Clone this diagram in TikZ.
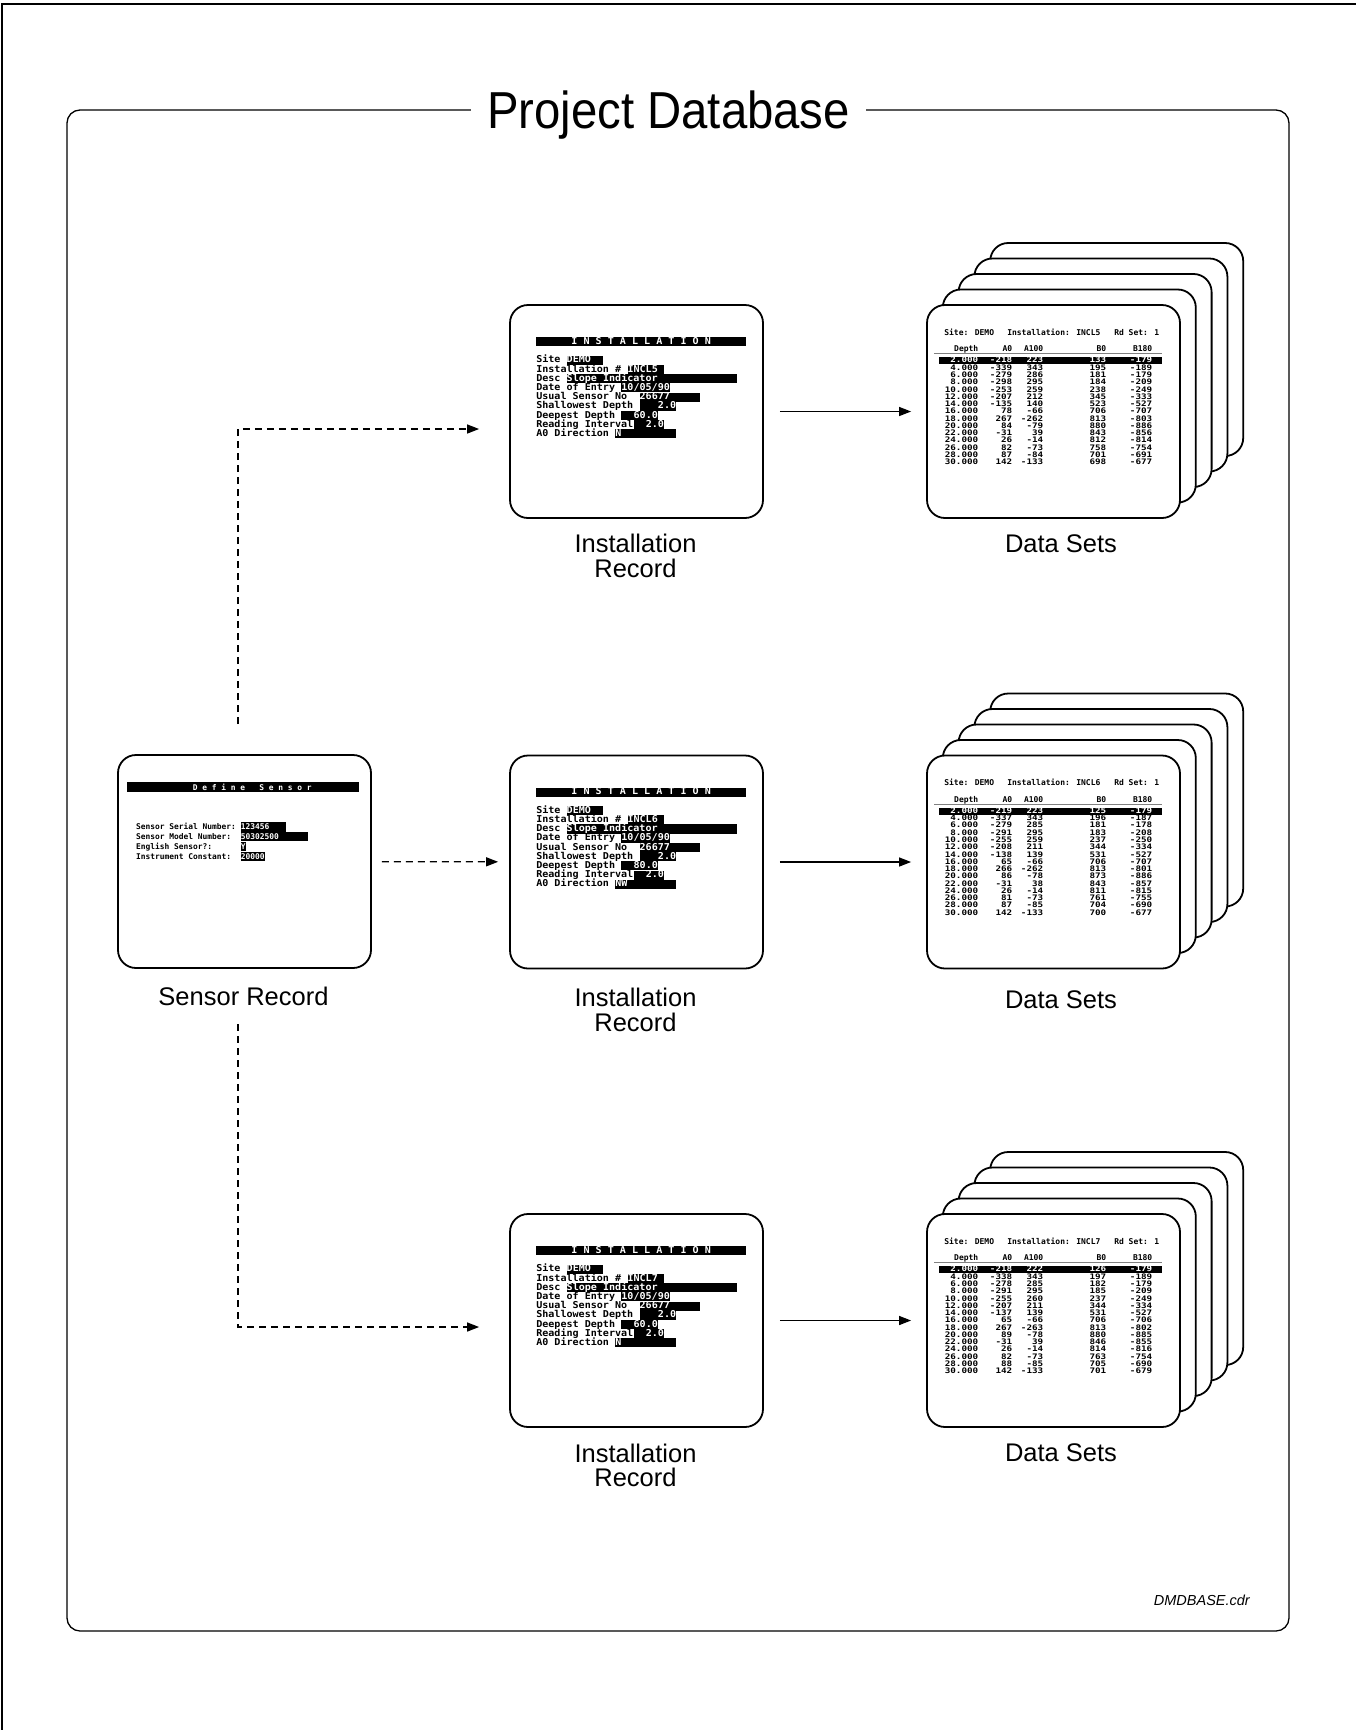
\documentclass[tikz,border=0pt]{standalone}
\usepackage{fontspec}
\setmainfont{Liberation Sans}
\newfontfamily\ttlfont[FakeStretch=0.91]{Liberation Sans}
\newfontfamily\scrfont{DejaVu Sans Mono}
\newfontfamily\insfont[FakeStretch=1.06]{DejaVu Sans Mono Bold}
\newfontfamily\datfont[FakeStretch=1.22]{DejaVu Sans Mono Bold}
\usetikzlibrary{arrows.meta,calc}

\setlength{\fboxsep}{0pt}
\newlength\chw \setlength\chw{6.08pt}
\newlength\chs \setlength\chs{4.77pt}
\newcommand\tight{\lineskiplimit=-50pt\lineskip=0pt}
\newcommand\scrstrut{\vrule height .78\baselineskip depth .2\baselineskip width 0pt}
\newcommand\lbl[2]{\makebox[#1][l]{#2}}
\newcommand\fld[3][l]{\colorbox{black}{\scrstrut\makebox[#2][#1]{\color{white}#3}}}
\newcommand\drow[5]{\makebox[39pt][r]{#1}\makebox[34pt][r]{#2}\makebox[31pt][r]{#3}\makebox[63pt][r]{#4}\makebox[46pt][r]{#5}}
\newcommand\dsel[5]{\colorbox{black}{\scrstrut\color{white}\drow{#1}{#2}{#3}{#4}{#5}\hspace*{10pt}}}
\newcommand\dln[5]{\scrstrut\drow{#1}{#2}{#3}{#4}{#5}}

\tikzset{
	screen/.style={shape=rectangle, rounded corners=18pt, draw, line width=1.8pt, fill=white,
		minimum width=253pt, minimum height=213pt, inner sep=0pt},
	scrtext/.style={anchor=north west, inner sep=0pt, align=left,
		font=\insfont\fontsize{9.5}{9.2}\selectfont\tight},
	sentext/.style={anchor=north west, inner sep=0pt, align=left,
		font=\scrfont\bfseries\fontsize{7.9}{9.9}\selectfont\tight},
	dattext/.style={anchor=north west, inner sep=0pt, align=left,
		font=\datfont\fontsize{7.6}{7.26}\selectfont\tight},
	dathead/.style={anchor=base west, inner sep=0pt,
		font=\scrfont\bfseries\fontsize{8}{9}\selectfont},
	caption/.style={align=center, inner sep=0pt, font=\fontsize{25.5}{24.5}\selectfont},
	flow/.style={line width=1.3pt, shorten <=16pt, shorten >=15pt},
	dashflow/.style={line width=1.3pt, dash pattern=on 7pt off 5pt},
}

\begin{document}
\begin{tikzpicture}[x=1pt, y=-1pt, >={Triangle[length=12pt,width=9pt]}]
	\useasboundingbox (0,0) rectangle (1356,1730);
	
	% page and database frame
	\draw[line width=1.2pt] (2,1730) -- (2,4) -- (1356,4);
	\draw[line width=1.3pt, rounded corners=13pt] (67,110) rectangle (1289,1631);
	
	\node (title)[fill=white, inner xsep=16pt, inner ysep=4pt, anchor=base,
		font=\ttlfont\fontsize{52}{52}\selectfont] 
	at (668.5,128){
		Project Database
	};
	
	% sensor record
	\node (sen)[screen] at (244.5,861.5) {};
	\node (senbar)[sentext, font=\scrfont\bfseries\fontsize{7.9}{10}\selectfont] 
	at ($(sen.north west)+(10,28)$){
		\fld[c]{232pt}{\hspace*{18pt}D e f i n e\ \ \ S e n s o r}
	};
	\node (sentxt)[sentext] 
	at ($(sen.north west)+(18.7,67.5)$){
		\lbl{22\chs}{Sensor Serial Number:}\fld{9.5\chs}{123456} \\
		\lbl{22\chs}{Sensor Model Number:}\fld{14\chs}{50302500} \\
		\lbl{22\chs}{English Sensor?:}\fld{1\chs}{Y} \\
		\lbl{22\chs}{Instrument Constant:}\fld{5\chs}{20000}
	};
	\node (senlbl)[caption, anchor=base] at (243.5,1005) {Sensor Record};
	
	% installation records
	\node (ins1)[screen] at (636.5,411.5) {};
	\node (ins1txt)[scrtext] 
	at ($(ins1.north west)+(27,33)$){
		\fld[c]{34.5\chw}{I N S T A L L A T I O N} \\[9.2pt]
		\lbl{5\chw}{Site}\fld{6\chw}{DEMO} \\
		\lbl{15\chw}{Installation \#}\fld{6\chw}{INCL5} \\
		\lbl{5\chw}{Desc}\fld{28\chw}{Slope Indicator} \\
		\lbl{14\chw}{Date of Entry}\fld{8\chw}{10/05/90} \\
		\lbl{17\chw}{Usual Sensor No}\fld{10\chw}{26677} \\
		\lbl{17\chw}{Shallowest Depth}\fld[r]{6\chw}{2.0} \\
		\lbl{14\chw}{Deepest Depth}\fld[r]{6\chw}{60.0} \\
		\lbl{16\chw}{Reading Interval}\fld[r]{5\chw}{2.0} \\
		\lbl{13\chw}{A0 Direction}\fld{10\chw}{N}
	};
	\node (ins1lbl)[caption, anchor=north] at (635.5,534) {Installation\\Record};
	
	\node (ins2)[screen] at (636.5,862) {};
	\node (ins2txt)[scrtext] 
	at ($(ins2.north west)+(27,33)$){
		\fld[c]{34.5\chw}{I N S T A L L A T I O N} \\[9.2pt]
		\lbl{5\chw}{Site}\fld{6\chw}{DEMO} \\
		\lbl{15\chw}{Installation \#}\fld{6\chw}{INCL6} \\
		\lbl{5\chw}{Desc}\fld{28\chw}{Slope Indicator} \\
		\lbl{14\chw}{Date of Entry}\fld{8\chw}{10/05/90} \\
		\lbl{17\chw}{Usual Sensor No}\fld{10\chw}{26677} \\
		\lbl{17\chw}{Shallowest Depth}\fld[r]{6\chw}{2.0} \\
		\lbl{14\chw}{Deepest Depth}\fld[r]{6\chw}{80.0} \\
		\lbl{16\chw}{Reading Interval}\fld[r]{5\chw}{2.0} \\
		\lbl{13\chw}{A0 Direction}\fld{10\chw}{NW}
	};
	\node (ins2lbl)[caption, anchor=north] at (635.5,988) {Installation\\Record};
	
	\node (ins3)[screen] at (636.5,1320.5) {};
	\node (ins3txt)[scrtext] 
	at ($(ins3.north west)+(27,33)$){
		\fld[c]{34.5\chw}{I N S T A L L A T I O N} \\[9.2pt]
		\lbl{5\chw}{Site}\fld{6\chw}{DEMO} \\
		\lbl{15\chw}{Installation \#}\fld{6\chw}{INCL7} \\
		\lbl{5\chw}{Desc}\fld{28\chw}{Slope Indicator} \\
		\lbl{14\chw}{Date of Entry}\fld{8\chw}{10/05/90} \\
		\lbl{17\chw}{Usual Sensor No}\fld{10\chw}{26677} \\
		\lbl{17\chw}{Shallowest Depth}\fld[r]{6\chw}{2.0} \\
		\lbl{14\chw}{Deepest Depth}\fld[r]{6\chw}{60.0} \\
		\lbl{16\chw}{Reading Interval}\fld[r]{5\chw}{2.0} \\
		\lbl{13\chw}{A0 Direction}\fld{10\chw}{N}
	};
	\node (ins3lbl)[caption, anchor=north] at (635.5,1443.5) {Installation\\Record};
	
	% data sets, row 1
	\node (d1c4)[screen] at (1116.7,349.5) {};
	\node (d1c3)[screen] at (1100.9,365) {};
	\node (d1c2)[screen] at (1085.1,380.5) {};
	\node (d1c1)[screen] at (1069.3,396) {};
	\node (dat1)[screen] at (1053.5,411.5) {};
	\node (dat1hdr)[dathead] at ($(dat1.north west)+(18,31)$)
		{\makebox[63pt][l]{Site: DEMO}\makebox[107pt][l]{Installation: INCL5}Rd Set: 1};
	\node (dat1col)[dathead] at ($(dat1.north west)+(13,47.5)$) {\drow{Depth}{A0}{A100}{B0}{B180}};
	\draw[gray, line width=1.2pt] ($(dat1.north west)+(8,49.5)$) -- ++(228,0);
	\node (dat1tab)[dattext] 
	at ($(dat1.north west)+(13,53)$){
		\dsel{2.000}{-218}{223}{133}{-179} \\
		\dln{4.000}{-339}{343}{195}{-189} \\
		\dln{6.000}{-279}{286}{181}{-179} \\
		\dln{8.000}{-298}{295}{184}{-209} \\
		\dln{10.000}{-253}{259}{238}{-249} \\
		\dln{12.000}{-207}{212}{345}{-333} \\
		\dln{14.000}{-135}{140}{523}{-527} \\
		\dln{16.000}{78}{-66}{706}{-707} \\
		\dln{18.000}{267}{-262}{813}{-803} \\
		\dln{20.000}{84}{-79}{880}{-886} \\
		\dln{22.000}{-31}{39}{843}{-856} \\
		\dln{24.000}{26}{-14}{812}{-814} \\
		\dln{26.000}{82}{-73}{758}{-754} \\
		\dln{28.000}{87}{-84}{701}{-691} \\
		\dln{30.000}{142}{-133}{698}{-677}
	};
	\node (dat1lbl)[caption, anchor=base] at (1061,552) {Data Sets};
	
	% data sets, row 2
	\node (d2c4)[screen] at (1116.7,800) {};
	\node (d2c3)[screen] at (1100.9,815.5) {};
	\node (d2c2)[screen] at (1085.1,831) {};
	\node (d2c1)[screen] at (1069.3,846.5) {};
	\node (dat2)[screen] at (1053.5,862) {};
	\node (dat2hdr)[dathead] at ($(dat2.north west)+(18,31)$)
		{\makebox[63pt][l]{Site: DEMO}\makebox[107pt][l]{Installation: INCL6}Rd Set: 1};
	\node (dat2col)[dathead] at ($(dat2.north west)+(13,47.5)$) {\drow{Depth}{A0}{A100}{B0}{B180}};
	\draw[gray, line width=1.2pt] ($(dat2.north west)+(8,49.5)$) -- ++(228,0);
	\node (dat2tab)[dattext] 
	at ($(dat2.north west)+(13,53)$){
		\dsel{2.000}{-219}{223}{125}{-179} \\
		\dln{4.000}{-337}{343}{196}{-187} \\
		\dln{6.000}{-279}{285}{181}{-178} \\
		\dln{8.000}{-291}{295}{183}{-208} \\
		\dln{10.000}{-255}{259}{237}{-250} \\
		\dln{12.000}{-208}{211}{344}{-334} \\
		\dln{14.000}{-138}{139}{531}{-527} \\
		\dln{16.000}{65}{-66}{706}{-707} \\
		\dln{18.000}{266}{-262}{813}{-801} \\
		\dln{20.000}{86}{-78}{873}{-886} \\
		\dln{22.000}{-31}{38}{843}{-857} \\
		\dln{24.000}{26}{-14}{811}{-815} \\
		\dln{26.000}{81}{-73}{761}{-755} \\
		\dln{28.000}{87}{-85}{704}{-690} \\
		\dln{30.000}{142}{-133}{700}{-677}
	};
	\node (dat2lbl)[caption, anchor=base] at (1061,1008) {Data Sets};
	
	% data sets, row 3
	\node (d3c4)[screen] at (1116.7,1258.5) {};
	\node (d3c3)[screen] at (1100.9,1274) {};
	\node (d3c2)[screen] at (1085.1,1289.5) {};
	\node (d3c1)[screen] at (1069.3,1305) {};
	\node (dat3)[screen] at (1053.5,1320.5) {};
	\node (dat3hdr)[dathead] at ($(dat3.north west)+(18,31)$)
		{\makebox[63pt][l]{Site: DEMO}\makebox[107pt][l]{Installation: INCL7}Rd Set: 1};
	\node (dat3col)[dathead] at ($(dat3.north west)+(13,47.5)$) {\drow{Depth}{A0}{A100}{B0}{B180}};
	\draw[gray, line width=1.2pt] ($(dat3.north west)+(8,49.5)$) -- ++(228,0);
	\node (dat3tab)[dattext] 
	at ($(dat3.north west)+(13,53)$){
		\dsel{2.000}{-218}{222}{126}{-179} \\
		\dln{4.000}{-338}{343}{197}{-189} \\
		\dln{6.000}{-278}{285}{182}{-179} \\
		\dln{8.000}{-291}{295}{185}{-209} \\
		\dln{10.000}{-255}{260}{237}{-249} \\
		\dln{12.000}{-207}{211}{344}{-334} \\
		\dln{14.000}{-137}{139}{531}{-527} \\
		\dln{16.000}{65}{-66}{706}{-706} \\
		\dln{18.000}{267}{-263}{813}{-802} \\
		\dln{20.000}{89}{-78}{880}{-885} \\
		\dln{22.000}{-31}{39}{846}{-855} \\
		\dln{24.000}{26}{-14}{814}{-816} \\
		\dln{26.000}{82}{-73}{763}{-754} \\
		\dln{28.000}{88}{-85}{705}{-690} \\
		\dln{30.000}{142}{-133}{701}{-679}
	};
	\node (dat3lbl)[caption, anchor=base] at (1061,1461) {Data Sets};
	
	\node (fname)[anchor=base east, inner sep=0pt, font=\itshape\fontsize{14.5}{16}\selectfont] 
	at (1250,1605) {DMDBASE.cdr};
	
	% connectors
	\coordinate (s-up) at ([xshift=-6.5pt, yshift=30pt]sen.north);
	\coordinate (s-dn) at (238,1024);
	
	\draw[->, dashflow, shorten >=30pt] (s-up) |- ($(ins1.west)+(0,17.5)$);
	\draw[->, dashflow, shorten <=10pt, shorten >=11pt] (sen) -- (ins2);
	\draw[->, dashflow, shorten >=30pt] (s-dn) |- ($(ins3.west)+(0,6.5)$);
	
	\path[->, flow] (ins1) edge (dat1);
	\path[->, flow] (ins2) edge (dat2);
	\path[->, flow] (ins3) edge (dat3);
\end{tikzpicture}
\end{document}
